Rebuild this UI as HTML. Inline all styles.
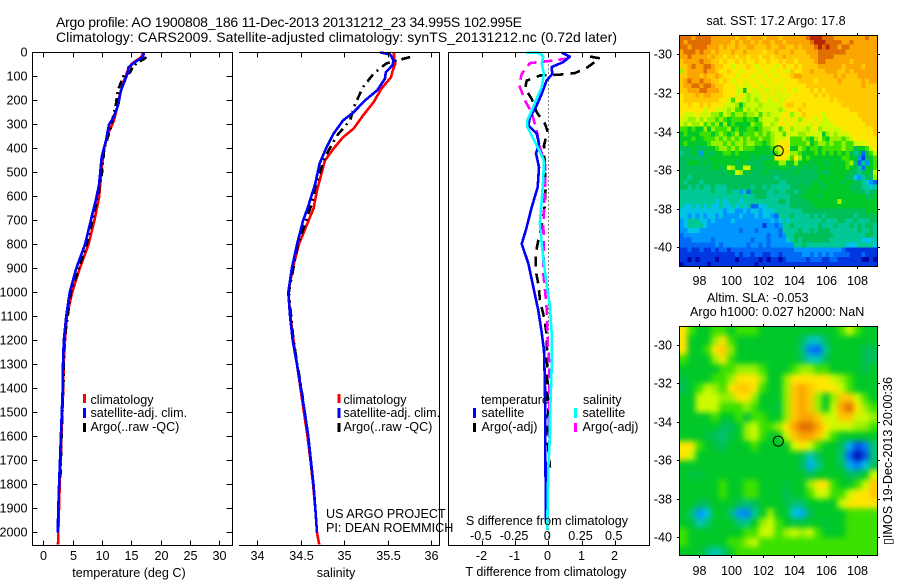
<!DOCTYPE html>
<html lang="en">
<head>
<meta charset="utf-8">
<title>Argo profile chart</title>
<style>
html,body{margin:0;padding:0;background:#fff;width:900px;height:580px;overflow:hidden}
svg{display:block}
text{font-family:"Liberation Sans",sans-serif;font-size:12.6px;fill:#000}
.frame{fill:none;stroke:#000;stroke-width:1;shape-rendering:crispEdges}
text.title{font-size:14px}
</style>
</head>
<body>
<svg id="chart" xmlns="http://www.w3.org/2000/svg" width="900" height="580" viewBox="0 0 900 580">
<defs>
<clipPath id="sstClip"><rect x="679.5" y="35.5" width="198" height="231"/></clipPath>
<clipPath id="slaClip"><rect x="679.5" y="326.5" width="198" height="229"/></clipPath>
<filter id="slaBlur" x="-5%" y="-5%" width="110%" height="110%" color-interpolation-filters="sRGB"><feGaussianBlur stdDeviation="3"/></filter>
</defs>
<text class="title" x="56" y="27" textLength="466">Argo profile: AO 1900808_186 11-Dec-2013 20131212_23 34.995S 102.995E</text>
<text class="title" x="56" y="42" textLength="561">Climatology: CARS2009. Satellite-adjusted climatology: synTS_20131212.nc (0.72d later)</text>

<g id="marks"></g>
<g id="heat"></g>

<path class="frame" d="M32.5 52.5H232.5V545.5H32.5Z"/>
<path class="frame" d="M239 52.5H439.5V545.5H239"/>
<path class="frame" d="M448.5 52.5H649.5V545.5H448.5Z"/>
<rect class="frame" x="679.5" y="35.5" width="198" height="231"/>
<rect class="frame" x="679.5" y="326.5" width="198" height="229"/>
<g id="ticks"></g>

<text x="129" y="577" text-anchor="middle">temperature (deg C)</text>
<text x="336" y="577" text-anchor="middle">salinity</text>
<text x="546" y="576" text-anchor="middle">T difference from climatology</text>
<text x="547" y="525" text-anchor="middle">S difference from climatology</text>

<g>
<rect x="83" y="394" width="3" height="9" fill="#f00"/>
<rect x="83" y="408" width="3" height="10" fill="#00f"/>
<rect x="83" y="423" width="3" height="9" fill="#000"/>
<text x="90.5" y="404">climatology</text>
<text x="90.5" y="417">satellite-adj. clim.</text>
<text x="90.5" y="431">Argo(..raw -QC)</text>
</g>
<g>
<rect x="337.5" y="394" width="3" height="9" fill="#f00"/>
<rect x="337.5" y="408" width="3" height="10" fill="#00f"/>
<rect x="337.5" y="423" width="3" height="9" fill="#000"/>
<text x="343.5" y="404">climatology</text>
<text x="343.5" y="417">satellite-adj. clim.</text>
<text x="343.5" y="431">Argo(..raw -QC)</text>
</g>
<g>
<text x="481" y="404">temperature</text>
<text x="583" y="404">salinity</text>
<rect x="473" y="408" width="3" height="10" fill="#00f"/>
<rect x="473" y="423" width="3" height="9" fill="#000"/>
<rect x="574" y="408" width="3" height="10" fill="#0ff"/>
<rect x="574" y="423" width="3" height="9" fill="#f0f"/>
<text x="481.5" y="417">satellite</text>
<text x="481.5" y="431">Argo(-adj)</text>
<text x="582.5" y="417">satellite</text>
<text x="582.5" y="431">Argo(-adj)</text>
</g>
<text x="326" y="518">US ARGO PROJECT</text>
<text x="326" y="532">PI: DEAN ROEMMICH</text>

<text x="776" y="25" text-anchor="middle">sat. SST: 17.2 Argo: 17.8</text>
<text x="707" y="302">Altim. SLA: -0.053</text>
<text x="690" y="316">Argo h1000: 0.027 h2000: NaN</text>
<text transform="translate(892,545) rotate(-90)">▯IMOS 19-Dec-2013 20:00:36</text>
</svg>
<script>
const depthTicks = [0,100,200,300,400,500,600,700,800,900,1000,1100,1200,1300,1400,1500,1600,1700,1800,1900,2000];
const tempTicks = [0,5,10,15,20,25,30];
const salTicks = [34,34.5,35,35.5,36];
const tDiffTicks = [-2,-1,0,1,2];
const sDiffTicks = [-0.5,-0.25,0,0.25,0.5];
const lonTicks = [98,100,102,104,106,108];
const latTicks = [-30,-32,-34,-36,-38,-40];

const tempClimDepth = [0,19,47,75,117,172,228,283,338,395,478,603,700,800,900,1000,1100,1200,1300,1400,1500,1600,1700,1800,1900,2000,2050];
const tempClimValues = [17,16.7,15.05,14.4,13.75,13.07,12.6,12.05,11.05,10.4,9.95,9.5,8.7,7.7,6.2,4.9,4,3.7,3.45,3.4,3.24,3.1,2.96,2.8,2.67,2.55,2.5];
const tempSatDepth = [0,18,40,62,83,117,160,215,270,300,365,435,550,610,700,800,900,1000,1100,1200,1300,1400,1500,1600,1700,1800,1900,2000];
const tempSatValues = [17.15,17,15.6,14.5,14.4,13.9,13.2,12.8,12,11.2,10.7,9.95,9.5,9,8.1,7.1,5.6,4.5,3.9,3.5,3.35,3.3,3.15,3,2.85,2.7,2.55,2.45];
const tempArgoDepth = [20,55,83,100,160,210,265,322,400,500,600,800,1000,1200,1400,1600,1780];
const tempArgoValues = [17.6,15.3,14.8,13.6,12.7,12.4,11.9,11.4,10.4,10,9.3,7.4,4.7,3.6,3.4,3.1,2.9];

const salClimDepth = [0,33,47,75,103,151,207,262,317,353,400,450,505,575,650,800,900,1000,1100,1200,1300,1400,1500,1600,1700,1800,1900,2000,2050];
const salClimValues = [35.575,35.575,35.59,35.56,35.54,35.43,35.34,35.22,35.11,34.99,34.88,34.78,34.74,34.69,34.65,34.48,34.41,34.36,34.385,34.42,34.46,34.5,34.54,34.58,34.615,34.645,34.67,34.69,34.715];
const salSatDepth = [0,8,33,54,82,110,158,200,249,283,338,394,463,546,650,700,800,900,1000,1100,1200,1300,1400,1500,1600,1700,1800,1900,2000];
const salSatValues = [35.42,35.53,35.57,35.555,35.48,35.47,35.38,35.24,35.11,34.99,34.88,34.8,34.72,34.67,34.58,34.53,34.46,34.4,34.36,34.38,34.41,34.46,34.506,34.55,34.59,34.62,34.65,34.67,34.69];
const salArgoDepth = [19,30,45,67,88,144,213,283,346,436,546,630,800,1000,1200,1400,1600,1750];
const salArgoValues = [35.76,35.64,35.49,35.41,35.34,35.22,35.13,35.07,34.92,34.78,34.68,34.63,34.47,34.365,34.42,34.51,34.59,34.63];

const tDiffSatDepth = [1,17,40,61,89,117,172,221,269,304,338,380,421,478,561,645,737,797,880,979,1075,1167,1242,1396,1600,1800,1950];
const tDiffSatValues = [0.4,0.65,0.45,0.1,0.12,-0.05,-0.2,-0.35,-0.55,-0.6,-0.35,-0.28,-0.37,-0.28,-0.32,-0.5,-0.67,-0.8,-0.6,-0.45,-0.3,-0.2,-0.13,-0.1,-0.09,-0.08,-0.07];
const tDiffArgoDepth = [17,24,64,86,93,96,117,151,193,249,297,325,353,388,505,561,630,700,783,839,908,964,1033,1103,1172,1283,1396,1480,1600,1730];
const tDiffArgoValues = [1.255,1.556,1.155,0.8,0.3,-0.25,-0.65,-0.7,-0.5,-0.35,-0.1,-0.03,-0.07,-0.13,-0.1,-0.08,-0.1,-0.17,-0.3,-0.38,-0.38,-0.3,-0.25,-0.13,-0.05,-0.04,-0.02,0,-0.03,0.05];
const sDiffSatDepth = [1,2,17,44,89,145,193,242,283,310,360,400,450,530,615,710,797,880,965,1060,1170,1320,1515,1590,1730,1990];
const sDiffSatValues = [-0.168,-0.063,-0.038,-0.05,-0.033,-0.05,-0.088,-0.125,-0.158,-0.158,-0.113,-0.075,-0.033,-0.038,-0.05,-0.063,-0.05,-0.033,-0.013,0.013,0.025,0.025,0.013,0.013,0,-0.008];
const sDiffArgoDepth = [25,35,44,89,137,200,250,325,395,465,560,670,720,797,920,990,1065,1130,1200,1280,1390,1600];
const sDiffArgoValues = [0.15,0.013,-0.138,-0.2,-0.218,-0.176,-0.125,-0.088,-0.063,-0.025,-0.025,-0.033,-0.038,-0.033,-0.038,-0.025,-0.013,-0.008,-0.005,0.005,0.008,0.003];

const argoLat = -35;
const argoLon = 103;

const sstLevels = [
[14,14,14,13,14,14,14,14,13,13,13,13,13,13,12,13,13,12,13,13,13,12,13,13,13,12,13,13,13,13,13,13,14,15,15,15,14,14,14,13,13,13,13,13,13,13,13,14,13,13],
[14,13,14,14,14,14,14,14,13,13,13,13,13,12,13,12,13,13,12,13,12,13,13,12,13,13,12,13,13,13,13,13,13,14,15,15,15,14,14,14,14,13,13,14,13,13,13,13,13,13],
[14,14,13,14,14,14,14,13,13,13,12,13,12,12,13,12,12,13,13,12,12,12,13,12,12,13,13,12,12,13,12,13,13,13,14,15,14,15,14,14,13,14,14,13,13,13,13,13,13,13],
[13,14,14,14,13,14,13,13,12,13,12,12,12,13,12,12,13,12,12,12,12,11,12,12,13,12,12,12,13,12,12,12,13,13,13,14,14,14,14,14,14,14,13,13,13,13,13,13,13,13],
[13,13,14,13,13,13,13,12,13,12,12,11,12,12,11,12,12,11,12,12,11,12,12,11,12,12,13,12,12,12,12,12,12,13,13,14,14,14,14,13,13,13,13,13,13,13,13,13,13,13],
[12,13,13,13,13,14,13,13,12,12,11,12,11,11,12,11,12,11,11,12,11,11,12,11,11,12,11,12,12,11,12,12,12,12,13,14,14,13,13,13,13,13,13,12,13,13,13,13,13,13],
[12,12,13,14,13,13,14,14,13,12,12,11,11,10,11,11,11,12,11,10,11,11,11,11,10,11,12,11,11,12,11,12,12,12,12,13,13,13,13,13,13,12,13,13,13,13,12,13,13,13],
[9,12,13,13,13,13,14,13,13,12,11,11,12,11,11,10,11,11,11,11,10,11,11,10,11,11,11,10,12,11,11,12,12,13,12,12,12,13,13,13,12,12,13,12,13,13,13,13,13,13],
[12,12,13,13,13,12,13,12,12,13,12,11,11,11,10,11,11,11,10,11,11,10,11,11,10,11,11,11,12,13,13,12,12,12,12,12,12,12,12,13,12,13,12,12,12,13,13,13,13,13],
[12,13,14,13,13,14,13,13,12,12,11,12,11,10,11,11,10,11,11,10,11,11,10,11,11,11,10,11,11,11,12,12,12,12,11,12,12,12,12,12,13,12,12,12,12,12,13,12,13,13],
[12,13,13,14,14,13,14,14,13,12,12,11,11,11,10,11,10,10,11,11,10,11,11,10,11,10,11,11,11,11,11,11,12,12,12,12,12,12,12,12,12,12,12,12,12,12,13,12,12,12],
[12,12,13,13,13,14,14,13,13,13,12,11,11,11,10,10,7,11,10,10,11,10,10,11,10,11,10,11,11,10,11,11,11,12,11,12,11,12,12,12,12,12,12,12,12,12,12,12,12,12],
[11,12,12,12,13,12,13,13,12,12,12,11,11,11,10,11,10,9,10,10,10,11,10,11,10,10,11,10,11,11,11,11,11,11,12,11,12,11,12,12,12,12,12,12,12,12,12,12,12,12],
[11,12,12,12,12,12,12,12,12,12,11,11,10,8,11,10,10,9,10,9,10,11,10,10,11,10,10,11,11,11,11,11,11,11,11,11,11,11,12,11,12,12,12,12,12,12,12,12,12,12],
[11,11,12,11,11,12,11,12,11,11,11,10,10,10,9,7,9,10,10,10,9,10,10,10,10,10,11,12,12,11,11,12,11,11,11,11,11,11,11,11,11,12,12,12,12,12,12,12,12,12],
[11,11,11,11,11,11,10,11,11,10,10,10,9,10,8,8,10,9,10,9,10,10,10,10,10,9,10,11,11,11,12,11,11,11,11,11,11,11,11,11,11,11,11,12,12,12,12,12,12,12],
[11,10,10,10,11,10,10,10,9,9,8,10,9,8,9,9,8,9,9,10,8,10,9,10,10,10,11,11,9,10,11,12,11,11,11,11,10,11,11,11,11,11,11,11,11,12,12,12,12,12],
[10,10,9,9,10,9,10,9,9,8,9,8,7,8,8,8,7,8,8,7,9,10,10,10,9,11,10,11,10,11,9,10,11,11,10,11,10,10,11,11,11,11,11,11,11,11,12,12,12,12],
[10,9,10,9,9,10,8,9,8,9,7,9,7,8,7,7,7,7,9,8,8,10,10,9,10,11,11,10,11,10,10,11,10,10,11,10,10,10,10,11,11,11,11,11,11,11,11,12,12,12],
[8,8,7,8,7,7,9,7,9,8,8,8,9,7,8,7,7,8,8,7,8,9,9,10,10,8,10,11,9,10,10,10,9,10,11,9,10,10,10,10,10,11,11,11,11,11,11,11,11,12],
[7,8,7,7,7,8,8,8,7,8,9,8,7,8,9,7,8,8,8,9,8,9,8,9,10,10,8,10,10,10,9,9,10,10,10,10,7,9,10,9,10,10,10,11,11,11,11,11,11,12],
[7,7,7,8,7,7,8,8,8,9,8,9,8,9,8,9,8,9,8,8,9,8,8,9,10,10,10,11,8,8,8,9,8,7,9,10,8,7,9,9,9,8,9,10,11,11,11,11,11,11],
[7,8,7,7,7,7,7,8,9,9,9,8,9,8,9,9,8,9,9,8,8,7,8,9,10,11,11,11,8,8,8,8,9,7,8,9,9,8,9,8,8,9,8,8,10,10,10,11,11,11],
[6,6,6,7,6,6,6,7,7,8,9,9,8,9,8,9,8,8,8,7,7,7,7,8,9,11,11,11,7,7,9,8,7,8,8,7,8,8,8,8,8,9,8,8,6,7,7,8,10,11],
[5,6,6,7,6,3,7,6,6,7,7,8,8,7,8,7,7,7,7,7,7,7,7,6,8,10,11,11,9,9,8,7,7,7,8,7,8,7,8,7,8,7,8,6,5,6,2,7,8,10],
[6,6,6,6,6,6,6,7,7,7,7,7,7,7,7,7,7,7,6,7,6,6,6,7,11,11,11,10,8,11,9,7,8,7,7,7,7,7,7,7,7,8,8,7,7,3,1,6,7,8],
[6,6,7,7,7,6,7,6,7,7,7,7,7,7,6,7,7,6,6,6,6,7,7,7,7,9,9,7,7,9,7,7,7,6,7,7,7,6,7,7,7,7,8,9,6,2,5,3,7,8],
[6,6,6,6,6,6,6,6,7,7,6,7,10,9,7,7,10,10,7,6,6,6,7,6,7,7,7,7,6,6,7,6,6,7,6,7,7,7,7,7,7,7,8,7,6,5,2,7,7,8],
[6,6,6,6,6,6,6,6,6,6,6,6,7,7,10,9,6,7,6,6,6,7,6,6,6,6,6,6,6,7,6,6,6,6,6,7,6,6,7,7,7,7,7,6,6,5,6,7,6,10],
[6,6,5,6,6,6,6,6,6,6,6,6,6,6,6,6,6,6,6,6,6,6,6,6,5,6,6,6,6,6,6,6,6,6,6,7,7,7,7,7,7,7,6,6,4,3,5,6,6,9],
[6,5,6,6,6,5,6,6,6,6,6,6,6,6,6,6,6,6,6,6,6,6,6,6,6,5,5,6,6,6,6,6,6,6,7,6,7,7,7,7,7,6,7,7,6,6,5,4,3,2],
[6,6,5,6,5,6,5,5,6,5,5,5,6,6,6,6,6,6,5,6,6,5,6,5,5,5,5,5,6,6,6,7,6,7,7,7,6,7,7,7,7,7,7,6,6,6,5,5,4,5],
[5,5,5,5,5,5,5,5,6,5,5,5,6,5,5,3,5,2,6,6,6,6,5,5,6,5,5,6,6,5,6,6,7,7,7,7,7,7,7,7,7,7,7,7,6,6,6,5,6,6],
[5,5,5,5,5,5,5,5,5,5,5,5,5,5,5,5,5,5,5,6,6,6,5,5,5,5,5,5,6,6,6,7,7,7,7,6,7,7,7,7,7,7,7,7,7,7,7,6,6,7],
[5,5,5,5,5,5,5,5,5,4,5,4,5,5,5,4,5,5,5,5,5,5,5,5,5,6,6,5,6,6,6,6,6,7,7,7,7,7,7,7,9,7,7,7,7,7,7,7,7,7],
[5,4,4,5,4,5,4,5,4,4,5,4,4,5,4,5,4,5,2,2,4,4,5,5,5,5,5,5,6,6,6,6,6,6,7,7,7,7,7,7,7,7,7,7,7,7,7,7,7,7],
[4,4,4,4,4,4,4,4,4,4,4,3,4,4,3,3,4,3,4,4,3,4,4,4,5,5,5,5,5,5,5,6,6,6,6,6,6,6,6,6,6,6,6,6,6,6,6,7,7,7],
[4,4,3,4,3,4,3,4,4,3,4,3,3,3,3,4,3,3,3,4,3,4,4,3,2,5,5,5,6,5,5,5,5,6,5,6,5,6,6,6,6,6,6,6,5,6,6,6,6,6],
[3,4,5,5,5,4,4,3,4,3,3,3,3,4,3,3,3,3,3,3,3,3,3,4,3,4,5,4,5,5,5,5,5,5,5,5,6,5,5,5,6,6,5,5,6,5,5,5,6,6],
[3,4,5,5,5,5,4,3,3,3,3,3,3,3,3,3,3,3,3,3,3,1,3,3,2,3,5,5,6,5,5,5,5,5,5,6,5,5,5,6,5,5,5,6,5,6,5,6,6,5],
[3,3,4,4,4,3,3,3,3,3,3,3,3,3,3,2,3,3,3,2,3,3,3,3,3,2,5,5,5,5,6,5,5,6,5,6,6,6,5,5,5,5,5,5,5,6,5,5,6,5],
[2,3,3,3,3,3,3,3,3,3,3,3,3,3,3,3,3,3,3,3,3,3,2,3,3,2,3,5,5,6,6,6,6,6,6,6,6,6,6,5,5,5,5,5,5,5,5,6,6,5],
[2,2,2,3,3,3,3,3,2,3,3,3,3,3,3,3,3,3,2,3,3,3,2,3,3,3,3,4,5,6,5,6,6,6,6,6,6,6,5,5,5,5,5,5,5,5,4,4,4,5],
[2,2,2,2,2,2,2,2,2,3,2,3,3,3,3,3,3,2,3,3,2,3,2,3,3,3,3,3,3,5,5,6,5,5,5,5,5,5,5,5,5,5,4,4,4,5,5,5,5,4],
[1,1,2,1,1,2,1,1,2,1,2,2,1,2,2,2,2,2,2,2,2,2,2,2,2,2,2,2,2,3,3,3,3,3,3,3,3,3,3,3,3,2,1,1,1,1,1,1,1,1],
[1,1,1,1,1,1,1,1,1,1,1,1,1,1,2,1,2,2,1,2,2,1,1,2,2,1,2,2,2,2,2,3,3,2,3,2,3,2,3,2,2,2,2,1,1,1,2,1,1,1],
[1,1,0,1,0,1,1,1,1,0,1,1,1,1,0,1,1,1,1,1,0,1,0,1,1,0,1,2,2,2,2,2,1,2,2,2,1,1,2,2,1,1,1,1,1,1,0,0,1,0],
[0,1,1,1,1,1,1,0,1,1,1,1,1,1,1,1,1,1,1,0,1,1,1,1,1,1,1,1,1,1,1,1,1,1,1,1,1,1,1,1,1,1,1,1,1,1,1,1,1,1]
];

const slaLevels = [
[11,8,7,7,8,8,7,8,8,8,7,7,7,7,7,7,7,7,7,7,8,10,8,7,7],
[11,7,7,7,9,11,8,7,7,7,7,7,7,7,7,6,4.5,4.5,6,7,7,7,7,7,7],
[11,7,7,8,11,12,9,7,7,7,7,7,7,7,7,5.5,2.5,2,5,7,7,7,7,6,6],
[8,7,7,7,9,11,8,7,7,7,7,7,7,7,7,6,4.5,4.5,6,7,7,7,7,6,6],
[7,7,7,7,7,8,8,9,9,9,8,7,7,7,8,9,9,8,8,7,7,7,7,6,7],
[6.5,7,7,7,8,8,9,11,11,11,9,7,7,9,11,11,11,11,11,10,9,8,7,7,7],
[6,7,8,10,9,8,11,12,12,11,8,7,7,9,12,13,12,11,11,11,10,8,7,7,7],
[7,7,10,10,10,9,9,11,11,9,7,7,7,9,12,13,12,9,7,9,12,12,10,8,7],
[7,7,10,10,10,8,8,8,9,8,7,7,6.5,9,12,13,12,9,7,10,13,14,11,9,8],
[7,7,7,7,8,7,7,8,6.5,8,8,7,7,9,12,13,13,12,10,10,12,12,10,10,9],
[7,7,7,7,7,6,6,7,9,10,8,8,9,11,13,14,14,13,11,10,10,10,9,9,8],
[7,7,7,6.5,6,5.5,6.5,7,9,10,8,7,7,10,12,13,13,12,10,8,7,7,7,7,7],
[11,11,8,7,6.5,6,7,7,7,8,7,7,7,7,10,11,10,8,7,7,6,3.5,1.5,2.5,5.5],
[11,10,7,7,7,7,7,7,7,7,7,7,7,7,7,6.5,4.5,6,7,7,5.5,2,0,1.5,5.5],
[7,7,7,7,7,7,7,7,7,7,7,7,7,7,7,6,3.5,5,7,7,6,3.5,2.5,4,6],
[7,6.5,6.5,7,7,7,7,7,7,7,7,7,7,7,7,7,6,7,7,7,7,6,6,7,10],
[7,7,7,7,7,8,7,7,8,8,7,7,7,6.5,7,7,9,11,11,8,7,7,8,10,12],
[7,7,7,7,7,8,7,7,8,8,7,7,7,6,7,7,8,10,10,8,8,10,11,11,12],
[7,7,6,6,7,7,7,6,5.5,6,7,7,7,6.5,5.5,5.5,7,7,7,7,10,11,11,11,11],
[7,5.5,3,4,7,7,5.5,3,2.5,5,7,9,7,7,4,3.5,6,7,7,7,7,8,8,8,8],
[7,6.5,4.5,5.5,7,7,7,5.5,5,7,9,10,8,7,6.5,6.5,7,7,6.5,7,7,8,8,8,8],
[8,7,7,7,7,7,7,7,8,8,10,10,8,9,10,9,10,8,7,7,7,8,8,8,8],
[8,7,7,7,7,7,8,8,9,10,8,8,8,8,8,8,8,8,8,8,8,8,8,8,8],
[7,7,7,5.5,4.5,5.5,7,8,8,8,8,8,8,8,8,8,8,8,8,8,8,8,8,8,8]
];

const NS = 'http://www.w3.org/2000/svg';
const marks = document.getElementById('marks');
const heat = document.getElementById('heat');
const ticks = document.getElementById('ticks');

function depthY(d) { return 52.5 + 0.24 * d; }
function tempX(t) { return 43.3 + 5.87 * t; }
function salX(s) { return 257 + 87 * (s - 34); }
function tDiffX(t) { return 548.3 + 33.2 * t; }
function sDiffX(s) { return 548.3 + 132.8 * s; }
function lonX(lon) { return 699.3 + 15.8 * (lon - 98); }
function sstLatY(lat) { return 54.3 + 19.3 * (-30 - lat); }
function slaLatY(lat) { return 345 + 19.23 * (-30 - lat); }

function levelColor(v) {
  const stops = [[0,10,170],[0,55,225],[0,105,245],[0,150,255],[0,195,230],[0,200,150],[0,190,90],[0,200,40],[60,225,0],[150,240,0],[205,250,0],[255,230,0],[255,200,0],[250,165,0],[225,110,0],[185,40,0]];
  const clamped = Math.max(0, Math.min(15, v));
  const lo = Math.floor(clamped);
  const hi = Math.min(15, lo + 1);
  const f = clamped - lo;
  const c = [0,1,2].map(function (i) { return Math.round(stops[lo][i] + (stops[hi][i] - stops[lo][i]) * f); });
  return 'rgb(' + c.join(',') + ')';
}

function profileLine(depths, values, xFn, color, width, dash) {
  const p = document.createElementNS(NS, 'path');
  const d = depths.map(function (dep, i) { return (i ? 'L' : 'M') + xFn(values[i]).toFixed(1) + ' ' + depthY(dep).toFixed(1); }).join('');
  p.setAttribute('d', d);
  p.setAttribute('fill', 'none');
  p.setAttribute('stroke', color);
  p.setAttribute('stroke-width', width);
  p.setAttribute('stroke-linejoin', 'round');
  p.setAttribute('shape-rendering', 'crispEdges');
  if (dash) p.setAttribute('stroke-dasharray', dash);
  marks.appendChild(p);
  return p;
}

function tickLine(x1, y1, x2, y2) {
  const l = document.createElementNS(NS, 'line');
  l.setAttribute('x1', x1);
  l.setAttribute('y1', y1);
  l.setAttribute('x2', x2);
  l.setAttribute('y2', y2);
  l.setAttribute('stroke', '#000');
  l.setAttribute('shape-rendering', 'crispEdges');
  ticks.appendChild(l);
  return l;
}

function tickText(x, y, anchor, str) {
  const t = document.createElementNS(NS, 'text');
  t.setAttribute('x', x);
  t.setAttribute('y', y);
  t.setAttribute('text-anchor', anchor);
  t.textContent = str;
  ticks.appendChild(t);
  return t;
}

const zeroLine = document.createElementNS(NS, 'line');
zeroLine.setAttribute('x1', tDiffX(0));
zeroLine.setAttribute('x2', tDiffX(0));
zeroLine.setAttribute('y1', depthY(0));
zeroLine.setAttribute('y2', depthY(2050));
zeroLine.setAttribute('stroke', '#000');
zeroLine.setAttribute('stroke-dasharray', '1 3');
zeroLine.setAttribute('shape-rendering', 'crispEdges');


marks.appendChild(zeroLine);

let ln;
ln = profileLine(tempClimDepth, tempClimValues, tempX, '#f00', 2.6);


ln = profileLine(tempArgoDepth, tempArgoValues, tempX, '#000', 2.6, '8 4 2 4');


ln = profileLine(tempSatDepth, tempSatValues, tempX, '#00f', 2.6);


ln = profileLine(salClimDepth, salClimValues, salX, '#f00', 2.6);


ln = profileLine(salArgoDepth, salArgoValues, salX, '#000', 2.6, '9 5 2 5');


ln = profileLine(salSatDepth, salSatValues, salX, '#00f', 2.6);


ln = profileLine(tDiffArgoDepth, tDiffArgoValues, tDiffX, '#000', 2.6, '10 7');


ln = profileLine(sDiffArgoDepth, sDiffArgoValues, sDiffX, '#f0f', 2.6, '10 6');


ln = profileLine(tDiffSatDepth, tDiffSatValues, tDiffX, '#00f', 2.6);


ln = profileLine(sDiffSatDepth, sDiffSatValues, sDiffX, '#0ff', 2.6);



const sstGroup = document.createElementNS(NS, 'g');
sstGroup.setAttribute('clip-path', 'url(#sstClip)');
sstGroup.setAttribute('shape-rendering', 'crispEdges');


heat.appendChild(sstGroup);
sstLevels.forEach(function (row, j) {
  row.forEach(function (v, i) {
    const lon = 96.75 + 0.25 * i;
    const lat = -29 - 0.25 * j;
    const r = document.createElementNS(NS, 'rect');
    r.setAttribute('x', lonX(lon).toFixed(2));
    r.setAttribute('y', sstLatY(lat).toFixed(2));
    r.setAttribute('width', (lonX(lon + 0.25) - lonX(lon) + 0.4).toFixed(2));
    r.setAttribute('height', (sstLatY(lat - 0.25) - sstLatY(lat) + 0.4).toFixed(2));
    r.setAttribute('fill', levelColor(v));
    
    
    sstGroup.appendChild(r);
  });
});

const slaClipGroup = document.createElementNS(NS, 'g');
slaClipGroup.setAttribute('clip-path', 'url(#slaClip)');


heat.appendChild(slaClipGroup);
const slaGroup = document.createElementNS(NS, 'g');
slaGroup.setAttribute('filter', 'url(#slaBlur)');
slaGroup.setAttribute('shape-rendering', 'crispEdges');
slaClipGroup.appendChild(slaGroup);
slaLevels.forEach(function (row, j) {
  row.forEach(function (v, i) {
    const lon = 96.75 + 0.5 * i;
    const lat = -29 - 0.5 * j;
    const edgeX = i === 0 ? 10 : 0;
    const edgeY = j === 0 ? 10 : 0;
    const edgeR = i === row.length - 1 ? 10 : 0;
    const edgeB = j === slaLevels.length - 1 ? 10 : 0;
    const r = document.createElementNS(NS, 'rect');
    r.setAttribute('x', (lonX(lon) - edgeX).toFixed(2));
    r.setAttribute('y', (slaLatY(lat) - edgeY).toFixed(2));
    r.setAttribute('width', (lonX(lon + 0.5) - lonX(lon) + 0.4 + edgeX + edgeR).toFixed(2));
    r.setAttribute('height', (slaLatY(lat - 0.5) - slaLatY(lat) + 0.4 + edgeY + edgeB).toFixed(2));
    r.setAttribute('fill', levelColor(v));
    
    
    slaGroup.appendChild(r);
  });
});

const sstMarker = document.createElementNS(NS, 'circle');
sstMarker.setAttribute('cx', lonX(argoLon));
sstMarker.setAttribute('cy', sstLatY(argoLat));
sstMarker.setAttribute('r', 5);
sstMarker.setAttribute('fill', 'none');
sstMarker.setAttribute('stroke', '#000');


heat.appendChild(sstMarker);
const slaMarker = document.createElementNS(NS, 'circle');
slaMarker.setAttribute('cx', lonX(argoLon));
slaMarker.setAttribute('cy', slaLatY(argoLat));
slaMarker.setAttribute('r', 5);
slaMarker.setAttribute('fill', 'none');
slaMarker.setAttribute('stroke', '#000');


heat.appendChild(slaMarker);

let tk;
depthTicks.forEach(function (d) {
  const y = Math.floor(depthY(d)) + 0.5;
  tk = tickLine(32.5, y, 37.5, y);
  
  
  tk = tickLine(226.5, y, 232.5, y);
  
  
  tk = tickText(27.5, y + 4, 'end', String(d));
  
  
});
tempTicks.forEach(function (t) {
  const x = Math.round(tempX(t)) + 0.5;
  tk = tickLine(x, 52.5, x, 57.5);
  
  
  tk = tickLine(x, 540.5, x, 545.5);
  
  
  tk = tickText(x, 560, 'middle', String(t));
  
  
});
salTicks.forEach(function (s) {
  const x = Math.round(salX(s)) + 0.5;
  tk = tickLine(x, 52.5, x, 57.5);
  
  
  tk = tickLine(x, 540.5, x, 545.5);
  
  
  tk = tickText(x, 560, 'middle', String(s));
  
  
});
tDiffTicks.forEach(function (t) {
  const x = Math.round(tDiffX(t)) + 0.5;
  tk = tickLine(x, 52.5, x, 57.5);
  
  
  tk = tickLine(x, 540.5, x, 545.5);
  
  
  tk = tickText(x - 1, 560, 'middle', String(t));
  
  
});
sDiffTicks.forEach(function (s) {
  tk = tickText(sDiffX(s) - 1, 540, 'middle', String(s));
  
  
});
lonTicks.forEach(function (lon) {
  const x = Math.round(lonX(lon)) + 0.5;
  tk = tickLine(x, 33, x, 35.5);
  
  
  tk = tickLine(x, 266.5, x, 269);
  
  
  tk = tickText(x, 285, 'middle', String(lon));
  
  
  tk = tickLine(x, 324, x, 326.5);
  
  
  tk = tickLine(x, 555.5, x, 558);
  
  
  tk = tickText(x, 575, 'middle', String(lon));
  
  
});
latTicks.forEach(function (lat) {
  let y = Math.round(sstLatY(lat)) + 0.5;
  tk = tickLine(677, y, 679.5, y);
  
  
  tk = tickLine(877.5, y, 880, y);
  
  
  tk = tickText(672, y + 4, 'end', String(lat));
  
  
  y = Math.round(slaLatY(lat)) + 0.5;
  tk = tickLine(677, y, 679.5, y);
  
  
  tk = tickLine(877.5, y, 880, y);
  
  
  tk = tickText(672, y + 4, 'end', String(lat));
  
  
});
</script>
</body>
</html>
